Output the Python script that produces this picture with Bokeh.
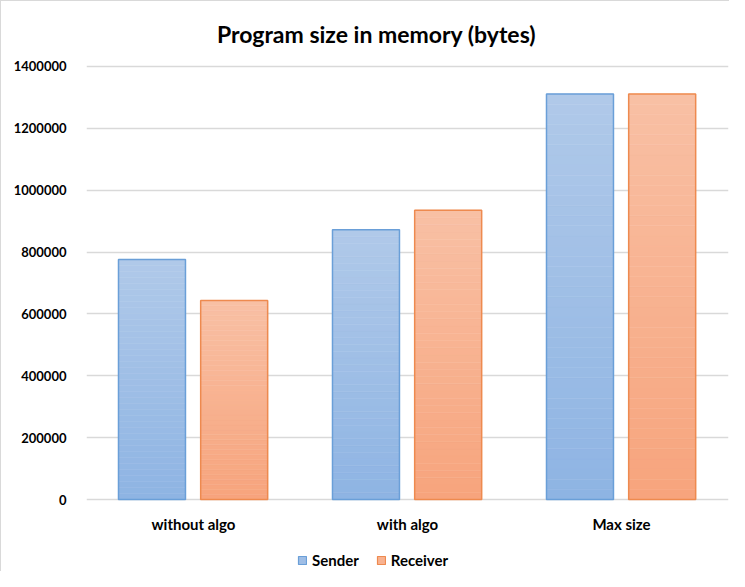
from bokeh.plotting import figure
from bokeh.models import (FactorRange, Range1d, ColumnDataSource, Legend, LegendItem,
                          Label, NumeralTickFormatter)
from bokeh.core.properties import value
from bokeh.transform import dodge
from bokeh.embed import file_html
from bokeh.resources import INLINE

categories = ["without algo", "with algo", "Max size"]
sender = [776000, 872000, 1310720]
receiver = [643000, 935000, 1310720]
series_names = ["Sender", "Receiver"]
y_ticks = [0, 200000, 400000, 600000, 800000, 1000000, 1200000, 1400000]
chart_title = "Program size in memory (bytes)"

FONT = "Lato"
sender_top, sender_bot = (176, 201, 233), (142, 180, 227)
recv_top, recv_bot = (248, 192, 165), (247, 164, 124)
sender_line, recv_line = "#6A9FD8", "#EE8A4F"

# the plot frame spans the full figure height; the value range is extended so that
# 0 .. 1 400 000 sits where the reference draws it, leaving room for title and labels
p = figure(width=729, height=571, x_range=FactorRange(*categories, range_padding=0),
           y_range=Range1d(-236000, 1610000), output_backend="svg", toolbar_location=None,
           x_axis_location=None,
           min_border_left=85, min_border_right=2, min_border_top=0, min_border_bottom=0)
p.outline_line_color = None
p.styles = {"border-left": "1px solid #D9D9D9", "border-top": "1px solid #D9D9D9"}

N = 40
def hexc(c1, c2, t):
    return "#%02x%02x%02x" % tuple(int(round(a + (b - a) * t)) for a, b in zip(c1, c2))

width = 0.313
offsets = [-0.194, 0.19]
legend_items = []
for vals, off, ctop, cbot, lc, name in [(sender, offsets[0], sender_top, sender_bot, sender_line, series_names[0]),
                                        (receiver, offsets[1], recv_top, recv_bot, recv_line, series_names[1])]:
    xs, bots, tops, cols = [], [], [], []
    for c, v in zip(categories, vals):
        for i in range(N):
            xs.append(c)
            bots.append(v * i / N)
            tops.append(v * (i + 1) / N)
            cols.append(hexc(cbot, ctop, (i + 0.5) / N))
    src = ColumnDataSource(dict(x=xs, bottom=bots, top=tops, color=cols))
    p.vbar(x=dodge("x", off, range=p.x_range), bottom="bottom", top="top", width=width,
           fill_color="color", line_color="color", line_width=0.5, source=src)
    osrc = ColumnDataSource(dict(x=categories, top=vals))
    p.vbar(x=dodge("x", off, range=p.x_range), top="top", width=width, bottom=0,
           fill_alpha=0, line_color=lc, line_width=1.5, source=osrc)
    # zero-size bar used only as the legend swatch
    dummy = p.vbar(x=dodge("x", off, range=p.x_range), top=0, bottom=0, width=0,
                   source=ColumnDataSource(dict(x=[categories[0]])),
                   fill_color=hexc(cbot, ctop, 0.5), line_color=lc, line_width=1.2)
    legend_items.append(LegendItem(label=name, renderers=[dummy]))

# category labels under the baseline
label_y = -77600
p.text(x="x", y="y", text="text",
       source=ColumnDataSource(dict(x=categories, y=[label_y] * len(categories), text=categories)),
       text_font=value(FONT), text_font_style="bold", text_font_size="15px",
       text_align="center", text_baseline="middle", text_color="#000000")

p.yaxis.ticker = y_ticks
p.yaxis.formatter = NumeralTickFormatter(format="0")
p.yaxis.axis_line_color = None
p.yaxis.major_tick_line_color = None
p.yaxis.minor_tick_line_color = None
p.yaxis.major_label_standoff = 14
p.yaxis.major_label_text_font = FONT
p.yaxis.major_label_text_font_style = "bold"
p.yaxis.major_label_text_font_size = "13px"
p.yaxis.major_label_text_color = "#000000"

p.xgrid.grid_line_color = None
p.ygrid.ticker = y_ticks
p.ygrid.grid_line_color = "#D9D9D9"
p.ygrid.grid_line_width = 1.5

title = Label(x=290, y=539, x_units="screen", y_units="screen", text=chart_title,
              text_font=FONT, text_font_style="bold", text_font_size="23px", text_align="center",
              text_baseline="middle", text_color="#000000")
p.add_layout(title)

legend = Legend(items=legend_items, orientation="horizontal", location=(211, 2),
                label_text_font=FONT, label_text_font_style="bold", label_text_font_size="15px",
                label_text_color="#000000",
                glyph_width=10, glyph_height=10, label_standoff=5, spacing=17, padding=0,
                label_height=20, border_line_color=None, background_fill_alpha=0, margin=0)
p.add_layout(legend, "center")

open("out.html", "w").write(file_html(p, INLINE))
